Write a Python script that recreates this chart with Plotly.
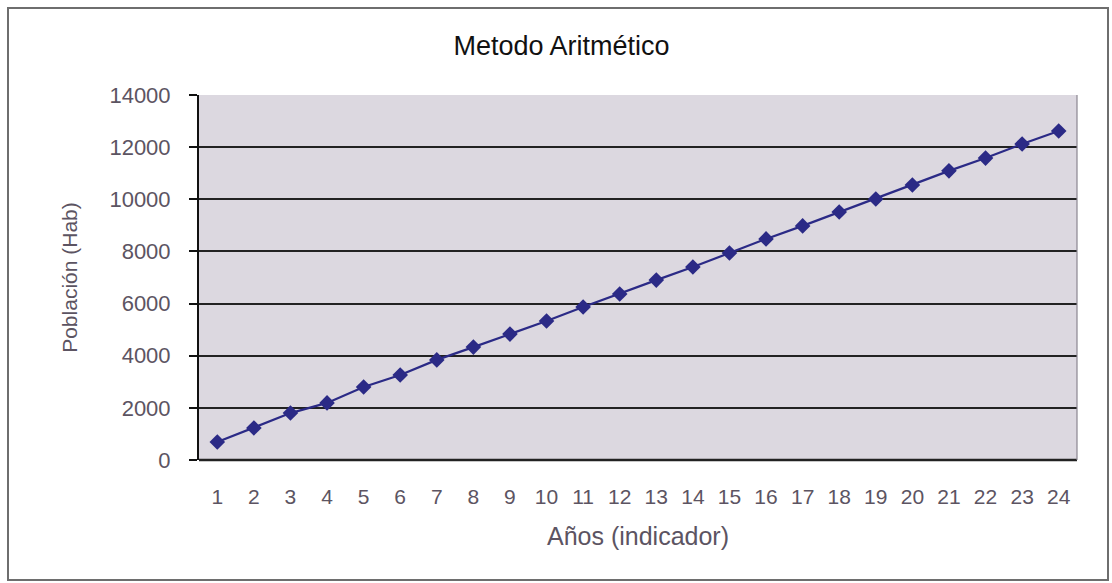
import plotly.graph_objects as go

# Projection by the arithmetic method: year index vs. population
anios = [str(i) for i in range(1, 25)]
poblacion = [690, 1230, 1800, 2190, 2800, 3260, 3840, 4330, 4830, 5330, 5870, 6370,
             6900, 7400, 7940, 8480, 8980, 9510, 10010, 10550, 11090, 11580, 12120, 12620]
y_ticks = [0, 2000, 4000, 6000, 8000, 10000, 12000, 14000]
y_labels = [str(v) for v in y_ticks]

W, H = 1112, 583
L, R, T, B = 199, 35, 95, 123
pw, ph = W - L - R, H - T - B

def px_x(x):
    return (x - L) / pw

def px_y(y):
    return (H - B - y) / ph

line_color = "#2b2a86"
text_gray = "#5c5462"

fig = go.Figure()
fig.add_trace(go.Scatter(
    x=anios, y=poblacion, mode="lines+markers",
    line=dict(color=line_color, width=2.2),
    marker=dict(symbol="diamond", size=12, color=line_color),
    showlegend=False, cliponaxis=False,
))

fig.update_layout(
    width=W, height=H,
    margin=dict(l=L, r=R, t=T, b=B),
    paper_bgcolor="white",
    plot_bgcolor="#dcd8e0",
    font=dict(family="Liberation Sans, Arial, sans-serif", color=text_gray),
    title=dict(text="Metodo Aritmético", x=0.505, xref="container", xanchor="center",
               y=1 - 46 / H, yref="container", yanchor="middle",
               font=dict(size=27, color="#111111")),
    xaxis=dict(
        type="category", tickvals=anios, ticktext=anios,
        range=[-0.5, len(anios) - 0.5],
        showgrid=False, zeroline=False, showline=False,
        ticks="", ticklabelstandoff=22,
        tickfont=dict(size=21, color=text_gray),
        title=dict(text="Años (indicador)", font=dict(size=25, color=text_gray), standoff=20),
    ),
    yaxis=dict(
        range=[0, 14000], tickvals=y_ticks, ticktext=y_labels,
        showgrid=True, gridcolor="#222222", gridwidth=2,
        zeroline=False, showline=True, linecolor="#111111", linewidth=2,
        ticks="outside", ticklen=8, tickcolor="#111111", tickwidth=2,
        ticklabelstandoff=14,
        tickfont=dict(size=22, color=text_gray),
        title=dict(text="Población (Hab)", font=dict(size=21, color=text_gray), standoff=26),
    ),
    shapes=[
        # bottom edge of plot area
        dict(type="line", xref="paper", yref="paper", x0=0, x1=1, y0=0, y1=0,
             line=dict(color="#222222", width=2.5), layer="above"),
        # right edge of plot area
        dict(type="line", xref="paper", yref="paper", x0=1, x1=1, y0=0, y1=1,
             line=dict(color="#8a8690", width=1.2)),
        # outer chart frame
        dict(type="rect", xref="paper", yref="paper",
             x0=px_x(8), x1=px_x(1108), y0=px_y(580), y1=px_y(8),
             line=dict(color="#6e6e6e", width=2)),
    ],
)

fig.write_html("out.html")
